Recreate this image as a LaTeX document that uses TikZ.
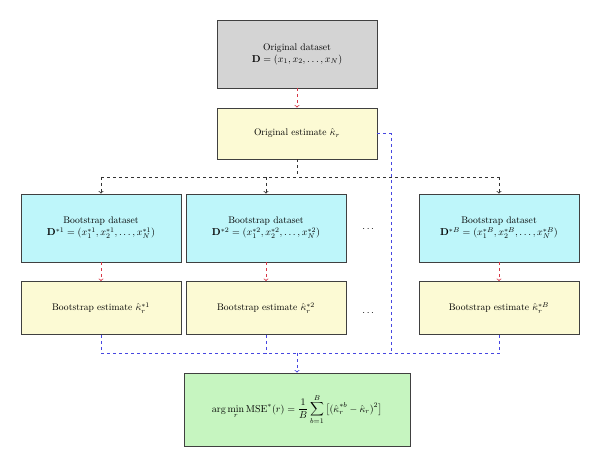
\documentclass[tikz,border=0pt]{standalone}
\usepackage{amsmath,amssymb}
\usetikzlibrary{arrows}
\definecolor{boxgray}{RGB}{212,212,212}
\definecolor{boxyellow}{RGB}{252,250,212}
\definecolor{boxcyan}{RGB}{190,246,250}
\definecolor{boxgreen}{RGB}{198,245,192}
\definecolor{linkred}{RGB}{215,55,70}
\definecolor{linkblue}{RGB}{70,70,225}
\newcommand{\bdata}[1]{$\mathbf{D}^{*#1} = (x_1^{*#1}, x_2^{*#1}, \ldots, x_N^{*#1})$}
\newcommand{\best}[1]{Bootstrap estimate $\hat{\kappa}_r^{*#1}$}

\begin{document}
\begin{tikzpicture}[
                x=1pt, y=1pt,
                box/.style={
                    draw=black!75,
                    line width=0.8pt,
                    minimum width=160pt,
                    align=center,
                    font=\fontsize{9.6}{12}\selectfont,
                },
                datbox/.style={box, minimum height=68pt},
                estbox/.style={box, minimum height=53pt, fill=boxyellow},
                red link/.style={->, dashed, linkred, thick},
                black link/.style={->, dashed, black!80, thick},
                blue link/.style={dashed, draw=linkblue, thick},
                >= to,
            ]
            \useasboundingbox (0,0) rectangle (600,466);

            \node [datbox, fill=boxgray] (orig) at (297,412)
                {Original dataset\\$\mathbf{D} = (x_1, x_2, \ldots, x_N)$};
            \node [box, minimum height=51pt, fill=boxyellow] (origest) at (297,332.5)
                {Original estimate $\hat{\kappa}_r$};

            \node [datbox, fill=boxcyan] (bd1) at (101,238) {Bootstrap dataset\\\bdata{1}};
            \node [datbox, fill=boxcyan] (bd2) at (266,238) {Bootstrap dataset\\\bdata{2}};
            \node [datbox, fill=boxcyan] (bdB) at (499,238) {Bootstrap dataset\\\bdata{B}};
            \node (dotsd) at (369,237) {$\cdots$};

            \node [estbox] (be1) at (101,158) {\best{1}};
            \node [estbox] (be2) at (266,158) {\best{2}};
            \node [estbox] (beB) at (499,158) {\best{B}};
            \node (dotse) at (369,153) {$\cdots$};

            \node [box, minimum width=226pt, minimum height=73pt, fill=boxgreen] (mse) at (297,56.5)
                {$\displaystyle \arg\min_r \mathrm{MSE}^*(r) = \frac{1}{B}\sum_{b=1}^{B}\big[(\hat{\kappa}_r^{*b} - \hat{\kappa}_r)^2\big]$};

            % junctions
            \coordinate (split) at (297,289);
            \coordinate (turn) at (391,332.5);
            \coordinate (join) at (297,113);

            \draw [red link] (orig) -- (origest);
            \draw [black!80, dashed, thick] (origest) -- (split);
            \draw [black!80, dashed, thick] (split -| bd1) -- (split -| bdB);
            \foreach \b in {bd1, bd2, bdB}
                \draw [black link] (split -| \b) -- (\b);

            \foreach \d/\e in {bd1/be1, bd2/be2, bdB/beB}
                \draw [red link] (\d) -- (\e);

            \foreach \e in {be1, be2, beB}
                \draw [blue link] (\e) -- (join -| \e);
            \draw [blue link] (origest) -- (turn) -- (join -| turn);
            \draw [blue link] (join -| be1) -- (join -| beB);
            \draw [blue link, ->] (join) -- (mse);
        \end{tikzpicture}
\end{document}
